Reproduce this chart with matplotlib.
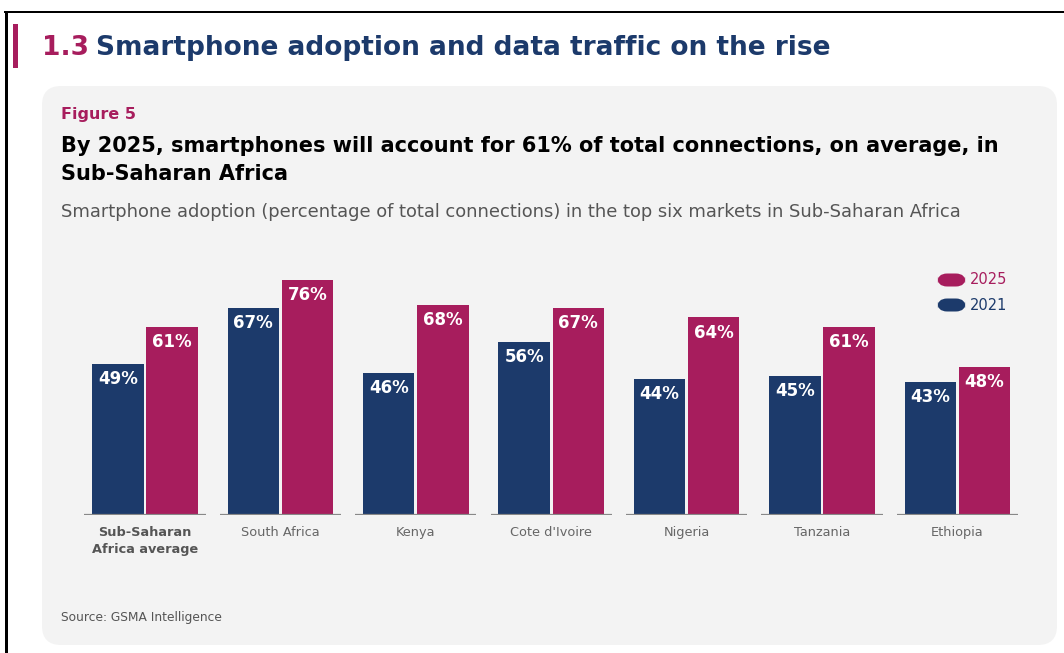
import matplotlib
matplotlib.use("Agg")
import matplotlib.pyplot as plt
from matplotlib.patches import FancyBboxPatch, Rectangle
import numpy as np

# Smartphone adoption, % of total connections
markets = ["Sub-Saharan\nAfrica average", "South Africa", "Kenya", "Cote d'Ivoire",
           "Nigeria", "Tanzania", "Ethiopia"]
share_2021 = [49, 67, 46, 56, 44, 45, 43]
share_2025 = [61, 76, 68, 67, 64, 61, 48]

NAVY = "#1c3a6b"
MAGENTA = "#a71d5d"
GREY_TXT = "#666666"
PANEL = "#f3f3f3"

W, H = 1064, 653
fig = plt.figure(figsize=(W / 100, H / 100), dpi=100)
fig.patch.set_facecolor("white")


def px(x, y):
    """pixel coords (top-left origin) -> figure fraction"""
    return x / W, 1 - y / H


# page frame and grey panel
fig.add_artist(Rectangle(px(4, 13), 1.0, 2.5 / H, transform=fig.transFigure,
                         color="black", lw=0))
fig.add_artist(Rectangle(px(4.5, 653), 3.5 / W, (653 - 12) / H,
                         transform=fig.transFigure, color="black", lw=0))
fig.add_artist(FancyBboxPatch(px(42, 645), (1057 - 42) / W, (645 - 86) / H,
                              boxstyle="round,pad=0,rounding_size=0.018",
                              transform=fig.transFigure, facecolor=PANEL,
                              edgecolor="none", mutation_aspect=W / H, zorder=-1))
fig.add_artist(Rectangle(px(13, 68), 4.5 / W, 44 / H, transform=fig.transFigure,
                         color=MAGENTA, lw=0))

# section heading
fig.text(*px(42, 48), "1.3", color=MAGENTA, fontsize=19, fontweight="bold",
         va="center", ha="left")
fig.text(*px(96, 48), "Smartphone adoption and data traffic on the rise",
         color=NAVY, fontsize=19, fontweight="bold", va="center", ha="left")

fig.text(*px(61, 115), "Figure 5", color=MAGENTA, fontsize=11.5, fontweight="bold",
         va="center")
fig.text(*px(61, 146), "By 2025, smartphones will account for 61% of total connections, on average, in",
         color="black", fontsize=15, fontweight="bold", va="center")
fig.text(*px(61, 174), "Sub-Saharan Africa", color="black", fontsize=15,
         fontweight="bold", va="center")
fig.text(*px(61, 212), "Smartphone adoption (percentage of total connections) in the top six markets in Sub-Saharan Africa",
         color="#555555", fontsize=12.9, va="center")
fig.text(*px(61, 618), "Source: GSMA Intelligence", color="#555555", fontsize=8.8,
         va="center")

# bar chart: group i centred at pixel 145 + 135.4 * i
step = 135.4
xlo, xhi = -0.6, 6.6
left = 145 + step * xlo
right = 145 + step * xhi
ytop = 80
base = 515
ax = fig.add_axes([left / W, (H - base) / H, (right - left) / W, ytop * 3.09 / H])
ax.set_zorder(5)
ax.set_xlim(xlo, xhi)
ax.set_ylim(0, ytop)
ax.axis("off")

x = np.arange(len(markets))
bw = 0.38
b21 = ax.bar(x - 0.2, share_2021, bw, color=NAVY, zorder=2)
b25 = ax.bar(x + 0.2, share_2025, bw, color=MAGENTA, zorder=2)
ax.hlines(np.zeros(len(x)), x - 0.448, x + 0.448, color="#888888", lw=1.6, zorder=3)

for bars in (b21, b25):
    for r in bars:
        v = r.get_height()
        ax.annotate(f"{v:.0f}%", (r.get_x() + r.get_width() / 2, v),
                    xytext=(0, -11), textcoords="offset points",
                    ha="center", va="center", color="white",
                    fontsize=12, fontweight="bold")

for i, name in enumerate(markets):
    bold = i == 0
    ax.annotate(name, (i, 0), xytext=(0, -8), textcoords="offset points",
                ha="center", va="top", fontsize=9.3,
                color="#555555" if bold else GREY_TXT,
                fontweight="bold" if bold else "normal",
                linespacing=1.35, annotation_clip=False)

# legend pills
for y, lab, col in [(280, "2025", MAGENTA), (305, "2021", NAVY)]:
    fig.add_artist(FancyBboxPatch(px(937, y + 6.5), 29 / W, 13 / H,
                                  boxstyle="round,pad=0,rounding_size=0.0095",
                                  transform=fig.transFigure, facecolor=col,
                                  edgecolor="none", mutation_aspect=W / H))
    fig.text(*px(970, y), lab, color=col, fontsize=10.5, va="center")

fig.savefig("out.png", dpi=100)
